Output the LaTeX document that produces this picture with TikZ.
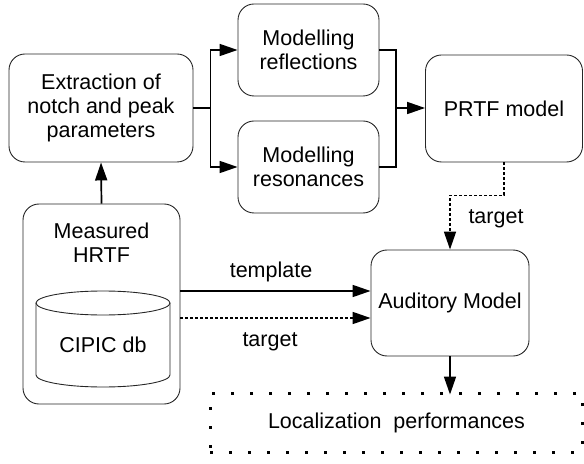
\documentclass[tikz,border=0pt]{standalone}
\usepackage{fontspec}
\setmainfont{Liberation Sans}
\usetikzlibrary{arrows.meta,calc}
\begin{document}
\begin{tikzpicture}[x=1bp,y=-1bp,
  every node/.style={font=\fontsize{21.5bp}{24bp}\selectfont, text=black},
  blockbox/.style={draw=black!85, line width=0.9bp, rounded corners=16bp,
    align=center, inner sep=0pt},
  arr/.style={line width=1.7bp, -{Triangle[length=18bp,width=12bp]}},
  wire/.style={line width=1.7bp},
  dashline/.style={dash pattern=on 3bp off 2bp},
  dotbox/.style={draw=black, line width=3bp, dash pattern=on 3bp off 16bp,
    align=center, inner sep=0pt}
]
\useasboundingbox (0,0) rectangle (584,464);

% processing blocks
\node[blockbox, minimum width=184bp, minimum height=108bp] (ext) at (101,108)
  {Extraction of\\notch and peak\\parameters};
\node[blockbox, minimum width=141bp, minimum height=92bp] (refl) at (308.5,50)
  {Modelling\\reflections};
\node[blockbox, minimum width=141bp, minimum height=92bp] (reso) at (308.5,167)
  {Modelling\\resonances};
\node[blockbox, minimum width=157bp, minimum height=107bp] (prtf) at (504,108.5)
  {PRTF model};
\node[blockbox, minimum width=158bp, minimum height=106bp] (aud) at (450,303)
  {Auditory Model};

% measured HRTF container with the database cylinder
\node[blockbox, minimum width=157bp, minimum height=200bp] (hrtf) at (101.5,304) {};
\node[align=center] (hrtflabel) at (101.5,243) {Measured\\HRTF};
\draw[black!85, line width=0.9bp] (36,303) -- (36,375)
  arc[start angle=180, end angle=0, x radius=67, y radius=12] -- (170,303);
\draw[black!85, line width=0.9bp] (103,303) ellipse [x radius=67, y radius=12];
\node (db) at (103,345) {CIPIC db};

% output block
\node[dotbox, minimum width=372bp, minimum height=59bp] (loc) at (396,422.5) {};
\node (loclabel) at (396.5,423) {Localization\ \ performances};

% connectors
\draw[arr] (hrtf.north) -- (ext.south);
\draw[wire] (ext.east) -- ++(17,0) coordinate (j1);
\draw[arr] (j1) |- (refl.west);
\draw[arr] (j1) |- (reso.west);
\coordinate (j2) at (396,108);
\draw[wire] (refl.east) -| (j2) |- (reso.east);
\draw[arr] (j2) -- (j2 -| prtf.west);

\draw[arr, dashline] (prtf.south) -- ++(0,33) -| (aud.north);
\node (lt1) at (496,219) {target};

\path (hrtf.east) ++(0,-13) coordinate (t1);
\path (hrtf.east) ++(0,14) coordinate (t2);
\draw[arr] (t1) -- (t1 -| aud.west);
\draw[arr, dashline] (t2) -- (t2 -| aud.west);
\node (lt2) at (271,272) {template};
\node (lt3) at (270,342) {target};

\draw[arr] (aud.south) -- ([yshift=-3bp]aud.south |- loc.north);
\end{tikzpicture}
\end{document}
